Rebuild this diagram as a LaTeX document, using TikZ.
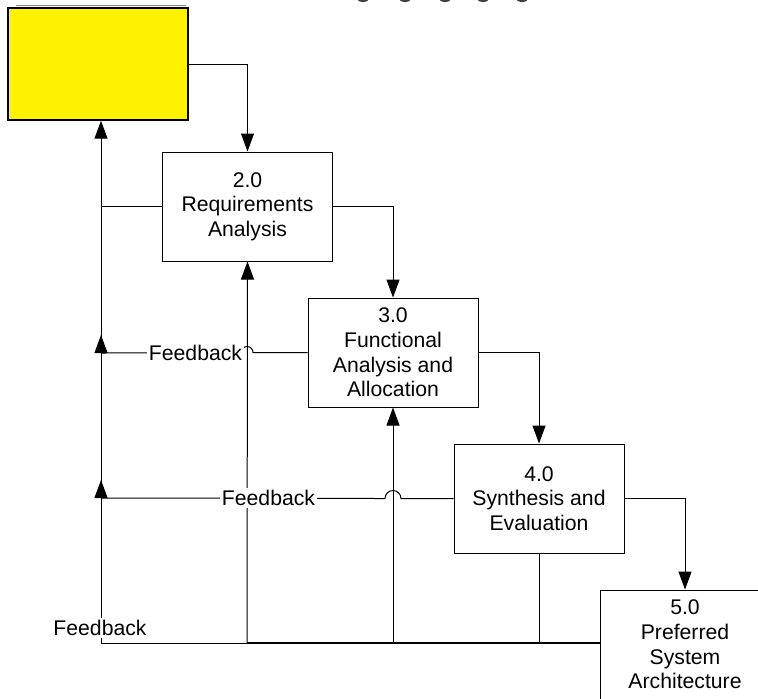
\documentclass[tikz,border=0pt]{standalone}
\usepackage{fontspec}
\setmainfont{Liberation Sans}
\usepackage{tikz}
\usetikzlibrary{arrows.meta,positioning,calc}
\newcommand{\procfont}{\fontsize{10.6}{12.3}\selectfont}
\tikzset{
  procbox/.style={draw, fill=white, font=\procfont, align=center, inner sep=0pt,
                  line width=0.5pt, minimum width=85pt, minimum height=54.5pt},
  inbox/.style={draw, fill=yellow, line width=0.7pt, inner sep=0pt,
                minimum width=90pt, minimum height=56pt},
  fblabel/.style={fill=white, font=\procfont, inner sep=1pt},
  flow/.style={-{Triangle[length=9pt,width=6.5pt]}, line width=0.5pt},
  link/.style={line width=0.5pt},
  busline/.style={line width=1.1pt},
}
\begin{document}
\begin{tikzpicture}[x=0.5pt, y=-0.5pt]
\useasboundingbox (0,0) rectangle (758,698);
\clip (0,0) rectangle (758,698);

% cut-off marks at the top edge
\foreach \mx in {363,405,445,483,522}
  \draw[black!75, line width=1.2pt] (\mx-5,-2) arc[start angle=180, end angle=360, x radius=2.5pt, y radius=1.5pt];

% Input box
\draw[gray, line width=0.8pt] (16,5.5) -- (186,5.5);
\node[inbox] (input) at (98,64) {};

% Process boxes
\node[procbox] (req) at (247.5,206.5) {2.0\\Requirements\\Analysis};
\node[procbox] (func) at (393,352.5) {3.0\\Functional\\Analysis and\\Allocation};
\node[procbox] (synth) at (539,498.5) {4.0\\Synthesis and\\Evaluation};
\node[procbox] (arch) at (685,644.5) {5.0\\Preferred\\System\\Architecture};

% Junctions on the return line
\coordinate (jA) at (101,353);
\coordinate (jB) at (101,498);
\coordinate (jbus) at (101,643);
\coordinate (busreq) at (247,643);
\coordinate (busfunc) at (393,643);

% Forward flow
\draw[flow] (input.east) -| (req.north);
\draw[flow] (req.east) -| (func.north);
\draw[flow] (func.east) -| (synth.north);
\draw[flow] (synth.east) -| (arch.north);

% Bottom bus
\draw[link] (jbus) -- (busreq);
\draw[busline] (busreq) -- (arch.west |- jbus);
\draw[flow] (busreq) -- (req.south);
\draw[flow] (busfunc) -- (func.south);
\draw[link] (synth.south) -- (synth.south |- jbus);

% Feedback paths
\draw[link] (req.west) -- (req.west -| jA);
\draw[link] (func.west) -- ($(func.west -| busreq)+(6,0)$) arc[start angle=0, end angle=180, radius=3pt] -- (jA);
\draw[link] (synth.west) -- ($(synth.west -| busfunc)+(8,0)$) arc[start angle=0, end angle=180, radius=4pt] -- (jB);

% Return line up to the input
\draw[flow] (jbus) -- ($(jB)+(0,-18)$);
\draw[flow] (jB) -- ($(jA)+(0,-18)$);
\draw[flow] (jA) -- (input.south -| jA);

% Feedback labels
\node[fblabel] (fbA) at (195.5,353) {Feedback};
\node[fblabel] (fbB) at (268.5,498) {Feedback};
\node[fblabel] (fbC) at (100,628) {Feedback};

\end{tikzpicture}
\end{document}
